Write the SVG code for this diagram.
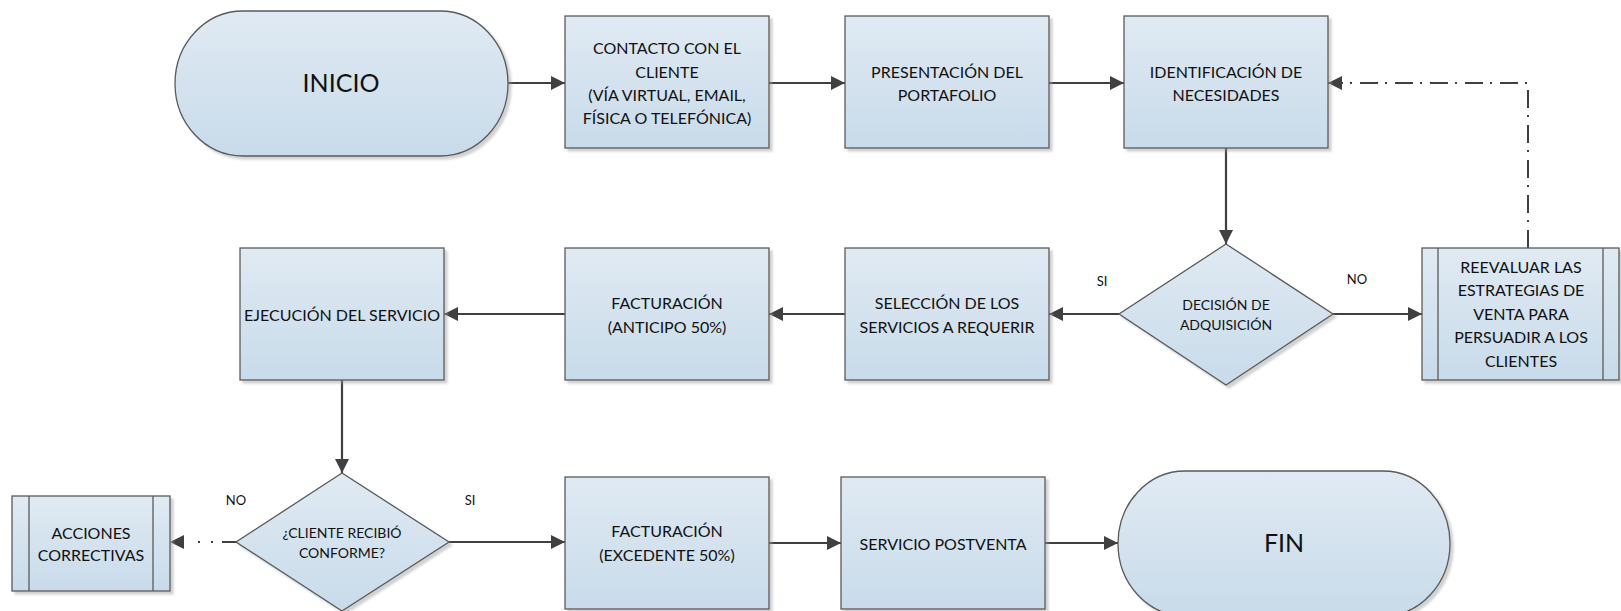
<svg xmlns="http://www.w3.org/2000/svg" width="1621" height="611" viewBox="0 0 1621 611">
  <defs>
    <linearGradient id="fillBlue" x1="0" y1="0" x2="0" y2="1">
      <stop offset="0" stop-color="#e0eaf3"/>
      <stop offset="1" stop-color="#c8dbea"/>
    </linearGradient>
    <filter id="drop" x="-5%" y="-5%" width="115%" height="115%">
      <feGaussianBlur in="SourceAlpha" stdDeviation="1"/>
      <feOffset dx="3" dy="3" result="off"/>
      <feFlood flood-color="#9a9a9a" flood-opacity="0.45"/>
      <feComposite in2="off" operator="in"/>
      <feMerge>
        <feMergeNode/>
        <feMergeNode in="SourceGraphic"/>
      </feMerge>
    </filter>
    <marker id="arrow" markerUnits="userSpaceOnUse" markerWidth="14" markerHeight="14" refX="14" refY="7" orient="auto">
      <path d="M0,0 L14,7 L0,14 Z" fill="#404040"/>
    </marker>
  </defs>
  <style>
    .shape { fill: url(#fillBlue); stroke: #5a5a5a; stroke-width: 1.3; filter: url(#drop); }
    .inner { fill: none; stroke: #5a5a5a; stroke-width: 1.3; }
    .txt { font-family: Lato, "Liberation Sans", sans-serif; font-size: 16px; fill: #111; text-anchor: middle; }
    .small { font-size: 14px; }
    .label { font-family: Lato, "Liberation Sans", sans-serif; font-size: 13px; fill: #111; text-anchor: middle; }
    .big { font-size: 25px; }
    .conn { fill: none; stroke: #404040; stroke-width: 2.2; marker-end: url(#arrow); }
    .dashdot { stroke-dasharray: 18 8 2 7; stroke-width: 2; }
    .dotted { stroke-dasharray: 14 9 2 11 2 40; stroke-width: 2; }
  </style>

  <!-- connectors -->
  <g id="connectors">
    <path class="conn" d="M508,83 L565,83"/>
    <path class="conn" d="M769,83 L845,83"/>
    <path class="conn" d="M1049,83 L1124,83"/>
    <path class="conn" d="M1226,148 L1226,244"/>
    <path class="conn" d="M1119,314 L1049,314"/>
    <path class="conn" d="M1333,314 L1422,314"/>
    <path class="conn dashdot" d="M1528,248 L1528,83 L1328,83"/>
    <path class="conn" d="M845,314 L769,314"/>
    <path class="conn" d="M565,314 L444,314"/>
    <path class="conn" d="M342,380 L342,473"/>
    <path class="conn dotted" d="M236,542 L170,542"/>
    <path class="conn" d="M449,542 L565,542"/>
    <path class="conn" d="M769,543 L841,543"/>
    <path class="conn" d="M1045,543 L1118,543"/>
    <text class="label" x="1102" y="286">SI</text>
    <text class="label" x="1357" y="284">NO</text>
    <text class="label" x="236" y="505">NO</text>
    <text class="label" x="470" y="505">SI</text>
  </g>

  <g id="inicio">
    <rect class="shape" x="175" y="11" width="333" height="145" rx="68" ry="72.5"/>
    <text class="txt big" x="341" y="92">INICIO</text>
  </g>

  <g id="contacto">
    <rect class="shape" x="565" y="16" width="204" height="132"/>
    <text class="txt" x="667" y="54">CONTACTO CON EL</text>
    <text class="txt" x="667" y="77.5">CLIENTE</text>
    <text class="txt" x="667" y="100.5">(VÍA VIRTUAL, EMAIL,</text>
    <text class="txt" x="667" y="124">FÍSICA O TELEFÓNICA)</text>
  </g>

  <g id="presentacion">
    <rect class="shape" x="845" y="16" width="204" height="132"/>
    <text class="txt" x="947" y="78">PRESENTACIÓN DEL</text>
    <text class="txt" x="947" y="101">PORTAFOLIO</text>
  </g>

  <g id="identificacion">
    <rect class="shape" x="1124" y="16" width="204" height="132"/>
    <text class="txt" x="1226" y="78">IDENTIFICACIÓN DE</text>
    <text class="txt" x="1226" y="101">NECESIDADES</text>
  </g>

  <g id="decision">
    <path class="shape" d="M1226,244 L1333,314 L1226,385 L1119,314 Z"/>
    <text class="txt small" x="1226" y="310">DECISIÓN DE</text>
    <text class="txt small" x="1226" y="330">ADQUISICIÓN</text>
  </g>

  <g id="reevaluar">
    <rect class="shape" x="1422" y="248" width="197" height="132"/>
    <line class="inner" x1="1438" y1="248" x2="1438" y2="380"/>
    <line class="inner" x1="1603" y1="248" x2="1603" y2="380"/>
    <text class="txt" x="1521" y="272.7">REEVALUAR LAS</text>
    <text class="txt" x="1521" y="296.2">ESTRATEGIAS DE</text>
    <text class="txt" x="1521" y="319.7">VENTA PARA</text>
    <text class="txt" x="1521" y="343.2">PERSUADIR A LOS</text>
    <text class="txt" x="1521" y="366.7">CLIENTES</text>
  </g>

  <g id="seleccion">
    <rect class="shape" x="845" y="248" width="204" height="132"/>
    <text class="txt" x="947" y="308.7">SELECCIÓN DE LOS</text>
    <text class="txt" x="947" y="332.7">SERVICIOS A REQUERIR</text>
  </g>

  <g id="facturacion-anticipo">
    <rect class="shape" x="565" y="248" width="204" height="132"/>
    <text class="txt" x="667" y="308.7">FACTURACIÓN</text>
    <text class="txt" x="667" y="332.7">(ANTICIPO 50%)</text>
  </g>

  <g id="ejecucion">
    <rect class="shape" x="240" y="248" width="204" height="132"/>
    <text class="txt" x="342" y="320.7">EJECUCIÓN DEL SERVICIO</text>
  </g>

  <g id="cliente-conforme">
    <path class="shape" d="M342,473 L449,542 L342,611 L236,542 Z"/>
    <text class="txt small" x="342" y="538">¿CLIENTE RECIBIÓ</text>
    <text class="txt small" x="342" y="558">CONFORME?</text>
  </g>

  <g id="acciones">
    <rect class="shape" x="12" y="496" width="158" height="95"/>
    <line class="inner" x1="29" y1="496" x2="29" y2="591"/>
    <line class="inner" x1="153" y1="496" x2="153" y2="591"/>
    <text class="txt" x="91" y="538.7">ACCIONES</text>
    <text class="txt" x="91" y="560.7">CORRECTIVAS</text>
  </g>

  <g id="facturacion-excedente">
    <rect class="shape" x="565" y="477" width="204" height="132"/>
    <text class="txt" x="667" y="536.7">FACTURACIÓN</text>
    <text class="txt" x="667" y="560.7">(EXCEDENTE 50%)</text>
  </g>

  <g id="postventa">
    <rect class="shape" x="841" y="477" width="204" height="132"/>
    <text class="txt" x="943" y="549.7">SERVICIO POSTVENTA</text>
  </g>

  <g id="fin">
    <rect class="shape" x="1118" y="471" width="332" height="145" rx="67" ry="72.5"/>
    <text class="txt big" x="1284" y="552">FIN</text>
  </g>
</svg>
